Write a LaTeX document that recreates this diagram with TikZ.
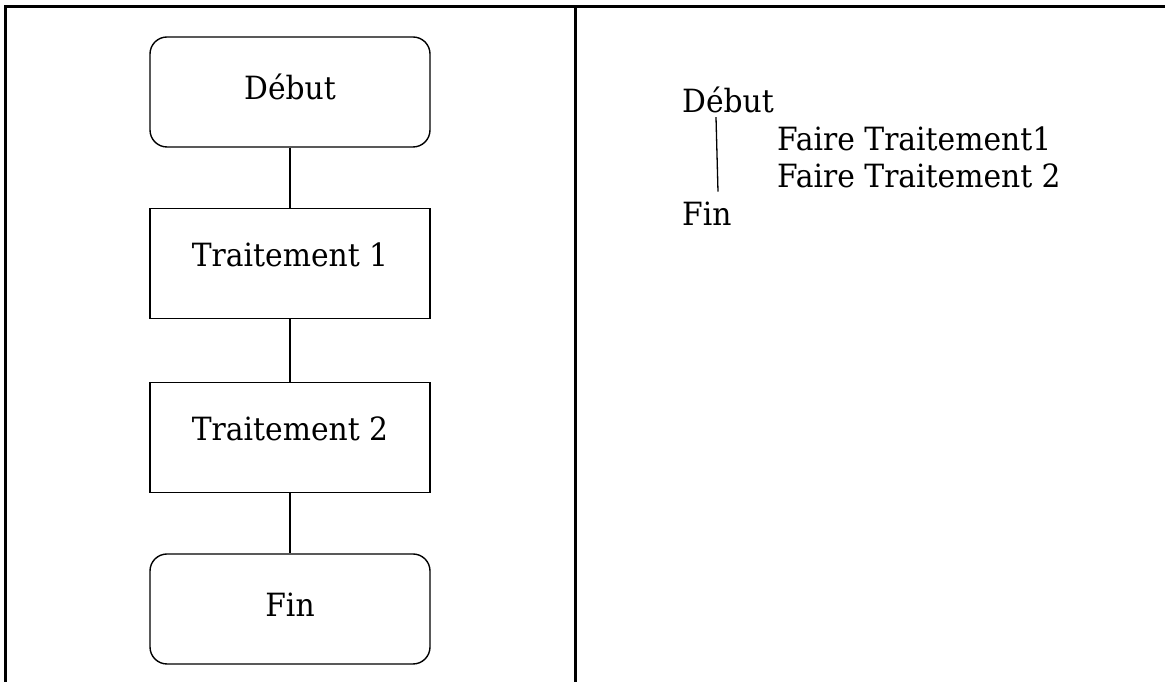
\documentclass[tikz,border=0pt]{standalone}
\usepackage{fontspec}
\setmainfont[FakeStretch=0.93]{DejaVu Serif}
\begin{document}
\begin{tikzpicture}[x=1pt,y=1pt,
  every node/.style={font=\fontsize{32}{38}\selectfont},
  frameline/.style={line width=2.2pt},
  link/.style={line width=1.4pt},
  terminal/.style={draw, line width=1.4pt, rounded corners=17pt,
    minimum width=280pt, minimum height=110pt, inner sep=0pt,
    text height=20pt, text depth=5.4pt},
  process/.style={draw, line width=1.4pt,
    minimum width=280pt, minimum height=110pt, inner sep=0pt,
    text height=20pt, text depth=13.4pt},
  listing/.style={anchor=base west, inner sep=0pt}]
\useasboundingbox (0,0) rectangle (1165,682);
% table frame
\coordinate (tl) at (5.5,675.5);
\coordinate (tr) at (1165,675.5);
\coordinate (bl) at (5.5,0);
\coordinate (tm) at (575.5,675.5);
\coordinate (bm) at (575.5,0);
\draw[frameline] (bl) -- (tl) -- (tr);
\draw[frameline] (tm) -- (bm);
% flowchart
\node[terminal] (debut) at (290,590) {Début};
\node[process] (t1) at (290,418.5) {Traitement 1};
\node[process] (t2) at (290,244.5) {Traitement 2};
\node[terminal] (fin) at (290,73) {Fin};
\draw[link] (debut) -- (t1);
\draw[link] (t1) -- (t2);
\draw[link] (t2) -- (fin);
% pseudo-code
\node[listing] (pdebut) at (682,569.3) {Début};
\node[listing] (pt1) at (777,531.3) {Faire Traitement1};
\node[listing] (pt2) at (777,494) {Faire Traitement 2};
\node[listing] (pfin) at (682,456.3) {Fin};
\coordinate (bstart) at ([xshift=34pt,yshift=-4.5pt]pdebut.base west);
\coordinate (bend) at ([xshift=36pt,yshift=34pt]pfin.base west);
\draw[line width=1.3pt] (bstart) -- (bend);
\end{tikzpicture}
\end{document}
